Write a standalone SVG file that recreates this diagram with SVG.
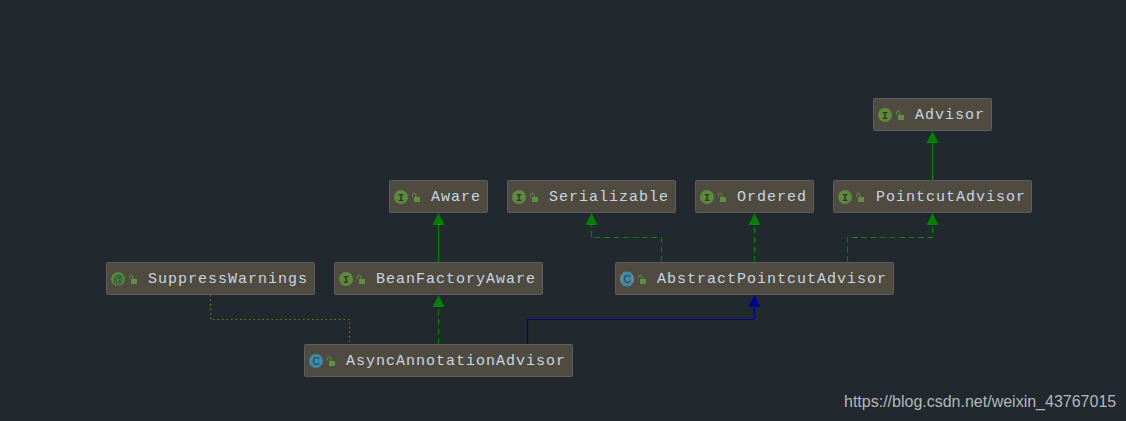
<svg xmlns="http://www.w3.org/2000/svg" width="1126" height="421" viewBox="0 0 1126 421">
<style>
.box{fill:#4f4b41;stroke:#5a5d61;stroke-width:1}
.t{font-family:"Liberation Mono",monospace;font-size:15px;letter-spacing:1px;fill:#c8d6e0}
.ic{fill:#5d8a3e}.cc{fill:#3c8aa8}.at{fill:#55883c}
.g{font-family:"Liberation Mono",monospace;font-size:10px;font-weight:bold;fill:#2b3b22;text-anchor:middle}
.gc{font-family:"Liberation Sans",sans-serif;font-size:10px;fill:#1f3f50;text-anchor:middle}
.lock{fill:#5d9141}.sh{fill:none;stroke:#5d9141;stroke-width:1}
.e{fill:none;stroke-width:1.2}
.gr{stroke:#008000}.bl{stroke:#000090}.ol{stroke:#7a7a00;stroke-dasharray:1.5 3}
.da{stroke-dasharray:6 3.5}
.wm{font-family:"Liberation Sans",sans-serif;font-size:16px;fill:#b4b7ba}
</style>
<defs>
<g id="lk"><rect class="lock" x="2" y="4" width="6" height="5"/><path class="sh" d="M0.500 3.500V1.800A1.700 1.700 0 0 1 3.900 1.800V4"/></g>
</defs>
<rect width="1126" height="421" fill="#21282e"/>
<g id="connectors">
<path class="e gr" d="M932.500 180V140"/><path fill="#008000" d="M932.500 131l-6 12h12z"/>
<path class="e gr" d="M438.500 262V222"/><path fill="#008000" d="M438.500 213l-6 12h12z"/>
<path class="e gr da" d="M661.500 262V237.500H591.500V222"/><path fill="#008000" d="M591.500 213l-6 12h12z"/>
<path class="e gr da" d="M754.500 262V222"/><path fill="#008000" d="M754.500 213l-6 12h12z"/>
<path class="e gr da" d="M847.500 262V237.500H932.500V222"/><path fill="#008000" d="M932.500 213l-6 12h12z"/>
<path class="e gr da" d="M438.500 344V304"/><path fill="#008000" d="M438.500 295l-6 12h12z"/>
<path class="e bl" d="M527.500 344V319.500H754.500V304"/><path fill="#000090" d="M754.500 295l-6 12h12z"/>
<path class="e ol" d="M210.500 295V319.500H349.500V344"/>
</g>
<g id="n-advisor"><rect class="box" x="873.500" y="98.500" width="118" height="32" rx="1"/><circle class="ic" cx="885" cy="115" r="7"/><text class="g" x="885" y="118.500">I</text><use href="#lk" x="896" y="111"/><text class="t" x="915" y="119">Advisor</text></g>
<g id="n-aware"><rect class="box" x="389.500" y="180.500" width="98" height="32" rx="1"/><circle class="ic" cx="401" cy="197" r="7"/><text class="g" x="401" y="200.500">I</text><use href="#lk" x="412" y="193"/><text class="t" x="431" y="201">Aware</text></g>
<g id="n-serializable"><rect class="box" x="507.500" y="180.500" width="168" height="32" rx="1"/><circle class="ic" cx="519" cy="197" r="7"/><text class="g" x="519" y="200.500">I</text><use href="#lk" x="530" y="193"/><text class="t" x="549" y="201">Serializable</text></g>
<g id="n-ordered"><rect class="box" x="695.500" y="180.500" width="118" height="32" rx="1"/><circle class="ic" cx="707" cy="197" r="7"/><text class="g" x="707" y="200.500">I</text><use href="#lk" x="718" y="193"/><text class="t" x="737" y="201">Ordered</text></g>
<g id="n-pointcutadvisor"><rect class="box" x="833.500" y="180.500" width="198" height="32" rx="1"/><circle class="ic" cx="845" cy="197" r="7"/><text class="g" x="845" y="200.500">I</text><use href="#lk" x="856" y="193"/><text class="t" x="876" y="201">PointcutAdvisor</text></g>
<g id="n-suppresswarnings"><rect class="box" x="106.500" y="262.500" width="208" height="32" rx="1"/><circle class="at" cx="118" cy="279" r="7"/><text class="gc" x="118" y="282.500">@</text><use href="#lk" x="129" y="275"/><text class="t" x="148" y="283">SuppressWarnings</text></g>
<g id="n-beanfactoryaware"><rect class="box" x="334.500" y="262.500" width="208" height="32" rx="1"/><circle class="ic" cx="346" cy="279" r="7"/><text class="g" x="346" y="282.500">I</text><use href="#lk" x="357" y="275"/><text class="t" x="376" y="283">BeanFactoryAware</text></g>
<g id="n-abstractpointcutadvisor"><rect class="box" x="615.500" y="262.500" width="278" height="32" rx="1"/><circle fill="#80868a" cx="627" cy="279" r="7"/><rect class="cc" x="622" y="271.500" width="10" height="15" rx="4"/><text class="gc" x="627" y="282.500">C</text><use href="#lk" x="638" y="275"/><text class="t" x="657" y="283">AbstractPointcutAdvisor</text></g>
<g id="n-asyncannotationadvisor"><rect class="box" x="304.500" y="344.500" width="268" height="32" rx="1"/><circle class="cc" cx="316" cy="361" r="7"/><text class="gc" x="316" y="364.500">C</text><use href="#lk" x="327" y="357"/><text class="t" x="346" y="365">AsyncAnnotationAdvisor</text></g>
<text class="wm" x="844" y="407">https://blog.csdn.net/weixin_43767015</text>
</svg>
